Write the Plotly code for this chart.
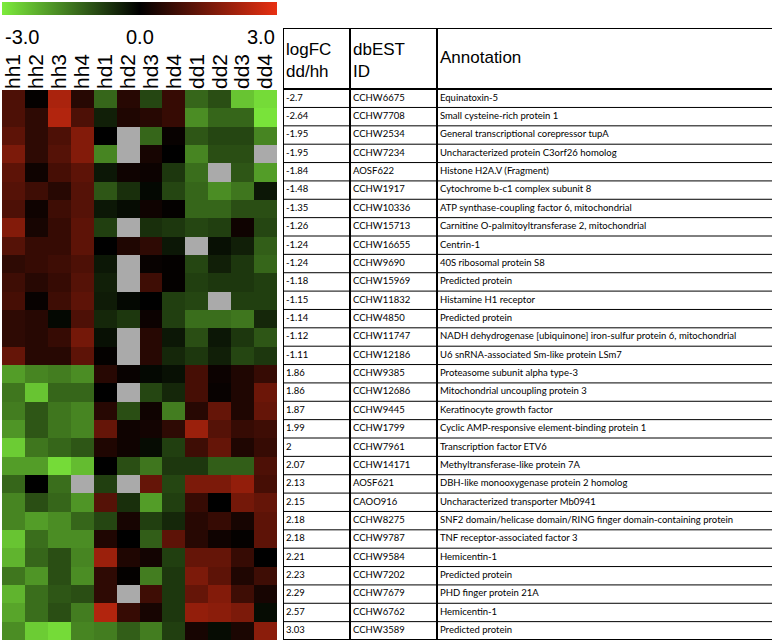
import plotly.graph_objects as go

samples = ["hh1", "hh2", "hh3", "hh4", "hd1", "hd2", "hd3", "hd4", "dd1", "dd2", "dd3", "dd4"]

log_fc = ["-2.7", "-2.64", "-1.95", "-1.95", "-1.84", "-1.48", "-1.35", "-1.26", "-1.24", "-1.24",
          "-1.18", "-1.15", "-1.14", "-1.12", "-1.11", "1.86", "1.86", "1.87", "1.99", "2",
          "2.07", "2.13", "2.15", "2.18", "2.18", "2.21", "2.23", "2.29", "2.57", "3.03"]

est_ids = ["CCHW6675", "CCHW7708", "CCHW2534", "CCHW7234", "AOSF622", "CCHW1917", "CCHW10336",
           "CCHW15713", "CCHW16655", "CCHW9690", "CCHW15969", "CCHW11832", "CCHW4850", "CCHW11747",
           "CCHW12186", "CCHW9385", "CCHW12686", "CCHW9445", "CCHW1799", "CCHW7961", "CCHW14171",
           "AOSF621", "CAOO916", "CCHW8275", "CCHW9787", "CCHW9584", "CCHW7202", "CCHW7679",
           "CCHW6762", "CCHW3589"]

annotations_txt = [
    "Equinatoxin-5", "Small cysteine-rich protein 1", "General transcriptional corepressor tupA",
    "Uncharacterized protein C3orf26 homolog", "Histone H2A.V (Fragment)",
    "Cytochrome b-c1 complex subunit 8", "ATP synthase-coupling factor 6, mitochondrial",
    "Carnitine O-palmitoyltransferase 2, mitochondrial", "Centrin-1", "40S ribosomal protein S8",
    "Predicted protein", "Histamine H1 receptor", "Predicted protein",
    "NADH dehydrogenase [ubiquinone] iron-sulfur protein 6, mitochondrial",
    "U6 snRNA-associated Sm-like protein LSm7", "Proteasome subunit alpha type-3",
    "Mitochondrial uncoupling protein 3", "Keratinocyte growth factor",
    "Cyclic AMP-responsive element-binding protein 1", "Transcription factor ETV6",
    "Methyltransferase-like protein 7A", "DBH-like monooxygenase protein 2 homolog",
    "Uncharacterized transporter Mb0941",
    "SNF2 domain/helicase domain/RING finger domain-containing protein",
    "TNF receptor-associated factor 3", "Hemicentin-1", "Predicted protein",
    "PHD finger protein 21A", "Hemicentin-1", "Predicted protein"]

N = None
expression = [
    [1.0, 0.05, 2.2, 0.5, -1.3, 0.5, -0.9, 0.7, -1.3, -1.0, -2.5, -2.8],
    [1.0, 0.6, 2.3, 1.0, -0.4, 0.4, 0.5, 0.7, -1.8, -1.3, -1.3, -2.9],
    [1.2, 0.6, 1.0, 1.7, 0.0, N, -1.3, 0.1, -1.1, -0.9, -0.9, -1.7],
    [1.6, 0.6, 1.1, 1.7, -1.7, N, 0.3, 0.0, -1.7, -1.0, -1.0, N],
    [1.2, 0.2, 0.9, 1.2, -0.3, 0.2, 0.15, -0.7, -1.4, N, -1.1, -2.0],
    [1.1, 0.8, 0.5, 1.1, -1.1, -0.6, -0.1, -0.9, -1.3, -1.8, -1.5, -0.3],
    [1.0, 0.2, 0.8, 1.1, -0.3, -0.15, 0.2, 0.05, -1.3, -1.3, -1.0, -1.0],
    [1.7, 0.3, 0.7, 1.2, -0.8, N, -0.6, -0.7, -0.9, -0.8, 0.2, -0.9],
    [1.1, 0.7, 0.7, 1.2, 0.0, 0.4, 0.6, -0.3, N, -0.2, -0.4, -1.2],
    [0.6, 0.7, 0.8, 1.0, -0.3, N, 0.1, 0.05, -0.9, -0.4, -0.7, -1.3],
    [0.8, 0.5, 0.7, 1.1, -0.4, N, 0.8, 0.05, -0.8, -0.7, -0.7, -0.8],
    [0.9, 0.1, 0.8, 1.2, -0.35, -0.1, 0.0, -0.8, -0.9, N, -0.8, -0.8],
    [0.6, 0.5, -0.1, 1.0, -0.5, -0.7, 0.15, -0.8, -1.4, -1.4, -1.5, -0.5],
    [0.6, 0.5, 0.7, 1.5, -0.2, N, 0.5, -0.3, -1.0, -0.3, -0.7, -1.1],
    [1.3, 0.5, 0.5, 1.2, 0.05, N, 0.5, -0.5, -0.7, -0.4, -0.9, -0.7],
    [-2.0, -1.7, -1.6, -1.8, 0.5, 0.1, -0.1, -0.2, 0.9, 0.15, 0.4, 0.7],
    [-1.5, -2.5, -1.3, -1.3, 0.0, N, -0.9, -0.5, 0.9, 0.1, 0.4, 1.4],
    [-1.6, -1.1, -1.5, -1.7, 0.5, -1.0, 0.2, -1.6, 0.5, 1.3, 0.4, 1.3],
    [-1.9, -1.1, -1.5, -1.7, 1.3, 0.2, 0.25, 0.6, 2.0, 1.1, 0.7, 0.8],
    [-2.6, -1.5, -1.3, -1.1, 0.4, 0.2, -0.15, -0.8, 0.8, 1.3, 0.4, 0.7],
    [-2.0, -2.0, -2.8, -2.4, 0.0, -1.0, -1.5, -0.7, -0.7, -1.2, -1.2, 1.0],
    [-1.3, 0.0, -1.4, N, -0.8, N, 1.3, -0.9, 1.6, 1.6, 1.9, 0.9],
    [-1.7, -1.0, -1.3, -1.9, 1.1, -0.6, -2.0, -0.8, 0.7, 0.0, 1.5, 1.3],
    [-1.7, -2.0, -1.8, -1.3, -0.9, 0.3, -0.8, -0.5, 0.5, 0.7, 0.3, 1.2],
    [-2.5, -1.4, -1.8, -1.8, 0.4, 0.0, -1.2, 1.2, 0.5, 0.2, 0.05, 1.2],
    [-2.3, -1.3, -1.0, -1.7, 2.0, 0.4, 0.25, -0.8, 1.3, 1.3, 0.7, 0.0],
    [-1.5, -1.9, -1.0, -1.8, 0.6, 0.05, -1.6, -0.7, 1.6, 1.2, 0.4, 0.8],
    [-2.3, -1.4, -1.1, -1.0, 0.6, N, 0.8, -0.7, 1.3, 1.7, 0.8, 0.3],
    [-2.1, -1.4, -1.0, -1.6, 2.3, 0.7, 0.3, -0.7, 1.9, 1.8, 1.6, -0.15],
    [-1.8, -2.6, -2.8, -1.7, -1.6, -1.2, -1.6, -0.8, 0.3, -0.15, 0.35, 1.8],
]

colorbar_ticks = ["-3.0", "0.0", "3.0"]
header_txt = ["logFC<br>dd/hh", "dbEST<br>ID", "Annotation"]

W, H = 772, 643
nrows = len(est_ids)
row_idx = list(range(nrows))

# layout geometry (pixels)
hm_left, hm_right, hm_top, hm_bottom = 2, 277, 90, 640
tb_left, tb_top = 283, 28
row_h = (hm_bottom - hm_top) / nrows
hdr_rows = (hm_top - 1 - tb_top) / row_h
col_edges = [0, 67, 154]
text_x = [3, 70, 157]
hdr_shift = [3 / row_h, 3 / row_h, 0.5 / row_h]
tb_width = W - tb_left

colorscale = [[0.0, "rgb(125,235,60)"], [0.5, "rgb(0,0,0)"], [1.0, "rgb(232,48,18)"]]

fig = go.Figure()

fig.add_trace(go.Heatmap(
    z=expression, x=list(range(len(samples))), y=row_idx,
    zmin=-3, zmax=3, colorscale=colorscale, hoverongaps=False,
    xaxis="x", yaxis="y",
    colorbar=dict(orientation="h", x=(hm_left + hm_right) / 2 / W, xanchor="center",
                  y=1 - 2 / H, yanchor="top", len=(hm_right - hm_left) / W, lenmode="fraction",
                  thickness=13, outlinewidth=0, showticklabels=False, ticks="",
                  xpad=0, ypad=0),
))

cell_font = dict(family="Lato, Liberation Sans, sans-serif", size=9.5, color="black")
for col, vals in enumerate([log_fc, est_ids, annotations_txt]):
    fig.add_trace(go.Scatter(
        x=[text_x[col]] * nrows, y=row_idx, mode="text", text=vals,
        textposition="middle right", textfont=cell_font,
        xaxis="x2", yaxis="y2", hoverinfo="skip", cliponaxis=False,
    ))

fig.add_trace(go.Scatter(
    x=text_x, y=[-0.5 - hdr_rows / 2 + s for s in hdr_shift], mode="text", text=header_txt,
    textposition="middle right",
    textfont=dict(family="Liberation Sans, Arial, sans-serif", size=17, color="black"),
    xaxis="x2", yaxis="y2", hoverinfo="skip", cliponaxis=False,
))

shapes = []
# gray background for missing values
shapes.append(dict(type="rect", xref="x", yref="y", x0=-0.5, x1=len(samples) - 0.5,
                   y0=-0.5, y1=nrows - 0.5, fillcolor="rgb(170,170,170)",
                   line=dict(width=0), layer="below"))
# table horizontal lines
for i in range(nrows + 1):
    y = i - 0.5
    wdt = 2 if i in (0, nrows) else 1
    shapes.append(dict(type="line", xref="x2", yref="y2", x0=0, x1=tb_width, y0=y, y1=y,
                       line=dict(color="black", width=wdt)))
shapes.append(dict(type="line", xref="x2", yref="y2", x0=0, x1=tb_width,
                   y0=-0.5 - hdr_rows, y1=-0.5 - hdr_rows, line=dict(color="black", width=2)))
for xe in col_edges:
    shapes.append(dict(type="line", xref="x2", yref="y2", x0=xe, x1=xe,
                       y0=-0.5 - hdr_rows, y1=nrows - 0.5, line=dict(color="black", width=2)))

ann = []
cb_label_y = 1 - 37.5 / H
for txt, xp, anc in zip(colorbar_ticks, [hm_left + 1, (hm_left + hm_right) / 2, hm_right],
                        ["left", "center", "right"]):
    ann.append(dict(text=txt, x=xp / W, y=cb_label_y, xref="paper", yref="paper",
                    xanchor=anc, yanchor="middle", showarrow=False,
                    font=dict(family="Liberation Sans, Arial, sans-serif", size=20, color="black")))

fig.update_layout(
    width=W, height=H, margin=dict(l=0, r=0, t=0, b=0, autoexpand=False),
    paper_bgcolor="white", plot_bgcolor="white", showlegend=False,
    shapes=shapes, annotations=ann,
    xaxis=dict(domain=[hm_left / W, hm_right / W], range=[-0.5, len(samples) - 0.5],
               side="top", tickmode="array", tickvals=list(range(len(samples))), ticktext=samples,
               tickangle=-90, ticks="", showgrid=False, zeroline=False, showline=False,
               automargin=False,
               tickfont=dict(family="Liberation Sans, Arial, sans-serif", size=21, color="black"),
               anchor="y"),
    yaxis=dict(domain=[1 - hm_bottom / H, 1 - hm_top / H], range=[nrows - 0.5, -0.5],
               visible=False, anchor="x", automargin=False),
    xaxis2=dict(domain=[tb_left / W, 1], range=[0, tb_width], visible=False, anchor="y2",
                automargin=False),
    yaxis2=dict(domain=[1 - hm_bottom / H, 1 - tb_top / H],
                range=[nrows - 0.5, -0.5 - hdr_rows], visible=False, anchor="x2",
                automargin=False),
)

fig.write_html("out.html", config={"displayModeBar": False},
               post_script="document.body.style.margin='0';document.body.style.overflow='hidden';")
